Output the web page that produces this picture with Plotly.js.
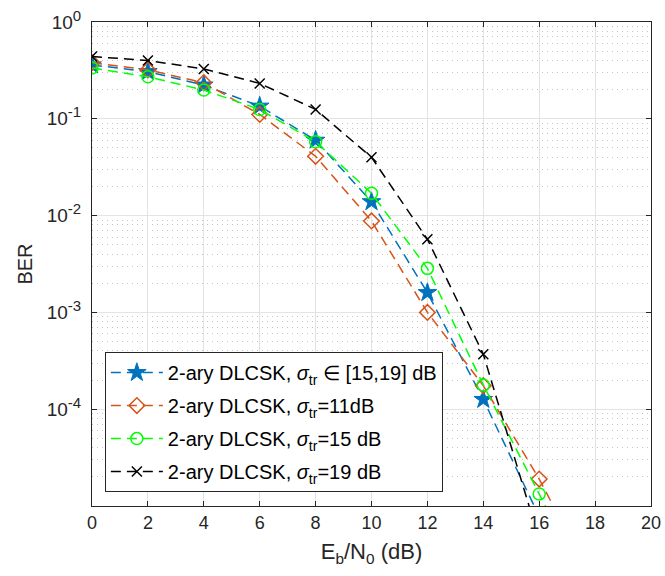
<!DOCTYPE html>
<html>
<head>
<meta charset="utf-8">
<script src="https://cdn.plot.ly/plotly-3.0.1.min.js"></script>
<style>html,body{margin:0;padding:0;background:#fff;}#chart{width:665px;height:576px;}</style>
</head>
<body>
<div id="chart"></div>
<script>
var ebn0 = [0, 2, 4, 6, 8, 10, 12, 14, 16];
var berRange = [0.36, 0.307, 0.223, 0.135, 0.060, 0.0139, 0.0016, 1.26e-4, 7.8e-6];
var ber11 = [0.38, 0.32, 0.236, 0.111, 0.041, 0.0088, 0.0010, 1.75e-4, 1.9e-5];
var ber15 = [0.335, 0.272, 0.198, 0.125, 0.058, 0.017, 0.00285, 1.78e-4, 1.33e-5];
var ber19 = [0.44, 0.40, 0.327, 0.232, 0.125, 0.040, 0.0057, 3.7e-4, 4.5e-6];
var ber11x = [18];
var ber11y = [1.5e-6];
var ber15x = [18];
var ber15y = [1.0e-6];

var names = [
  '2-ary DLCSK, <i>σ</i><sub>tr</sub> ∈ [15,19] dB',
  '2-ary DLCSK, <i>σ</i><sub>tr</sub>=11dB',
  '2-ary DLCSK, <i>σ</i><sub>tr</sub>=15 dB',
  '2-ary DLCSK, <i>σ</i><sub>tr</sub>=19 dB'
];
var yTickVals = [1, 0.1, 0.01, 0.001, 0.0001];
var yTickExps = ['0', '-1', '-2', '-3', '-4'];
var xTickVals = [0, 2, 4, 6, 8, 10, 12, 14, 16, 18, 20];

var yTickText = yTickExps.map(function (s) {
  return '10<sup><span style="font-size:15px">' + s + '</span></sup>';
});

var dashStyle = '10px,6px';
var traces = [
  {x: ebn0, y: berRange, name: names[0], mode: 'lines+markers', legendgroup: 'g1',
   line: {color: '#0072BD', width: 1.5, dash: dashStyle},
   marker: {symbol: 'star', size: 14, color: '#0072BD', line: {color: '#0072BD', width: 1}}},
  {x: ebn0.concat(ber11x), y: ber11.concat(ber11y), name: names[1], mode: 'lines+markers', legendgroup: 'g2',
   line: {color: '#D95319', width: 1.5, dash: dashStyle},
   marker: {symbol: 'diamond-open', size: 12, color: '#D95319', line: {width: 1.5}}},
  {x: ebn0.concat(ber15x), y: ber15.concat(ber15y), name: names[2], mode: 'lines+markers', legendgroup: 'g3',
   line: {color: '#00FF00', width: 1.5, dash: dashStyle},
   marker: {symbol: 'circle-open', size: 12, color: '#00FF00', line: {width: 1.5}}},
  {x: ebn0, y: ber19, name: names[3], mode: 'lines+markers', legendgroup: 'g4',
   line: {color: '#000000', width: 1.5, dash: dashStyle},
   marker: {symbol: 'x-thin-open', size: 10, color: '#000000', line: {width: 1.5}}}
];

var minorVals = [];
for (var e = -5; e < 0; e++) { for (var m = 2; m <= 9; m++) { minorVals.push(m * Math.pow(10, e)); } }

var layout = {
  width: 665, height: 576,
  margin: {l: 92, r: 14, t: 22, b: 70},
  paper_bgcolor: '#fff', plot_bgcolor: '#fff',
  font: {family: 'Liberation Sans, Arial, sans-serif', color: '#262626', size: 18},
  showlegend: true,
  legend: {x: 0.023, y: 0.318, xanchor: 'left', yanchor: 'top',
    bgcolor: '#fff', bordercolor: '#262626', borderwidth: 1,
    font: {size: 20, color: '#000'}, itemwidth: 52, tracegroupgap: 4,
    traceorder: 'grouped'},
  xaxis: {
    range: [0, 20], tickvals: xTickVals, ticks: 'inside', ticklen: 5, tickcolor: '#262626',
    showline: true, linecolor: '#262626', linewidth: 1, mirror: 'ticks',
    showgrid: true, gridcolor: '#e3e3e3', gridwidth: 1, zeroline: false,
    tickfont: {size: 18, color: '#262626'},
    title: {text: 'E<sub>b</sub>/N<sub>0</sub> (dB)', font: {size: 22, color: '#262626'}, standoff: 12}
  },
  yaxis: {
    type: 'log', range: [-5, 0], tickvals: yTickVals, ticktext: yTickText,
    ticks: 'inside', ticklen: 5, tickcolor: '#262626', ticklabelstandoff: 6,
    showline: true, linecolor: '#262626', linewidth: 1, mirror: 'ticks',
    showgrid: true, gridcolor: '#e3e3e3', gridwidth: 1, zeroline: false,
    tickfont: {size: 19, color: '#262626'},
    minor: {showgrid: true, gridcolor: '#c4c4c4', griddash: '1px,4px', gridwidth: 1, tickvals: minorVals},
    title: {text: 'BER', font: {size: 20, color: '#262626'}, standoff: 8}
  }
};

Plotly.newPlot('chart', traces, layout, {staticPlot: true, displayModeBar: false});
</script>
</body>
</html>
